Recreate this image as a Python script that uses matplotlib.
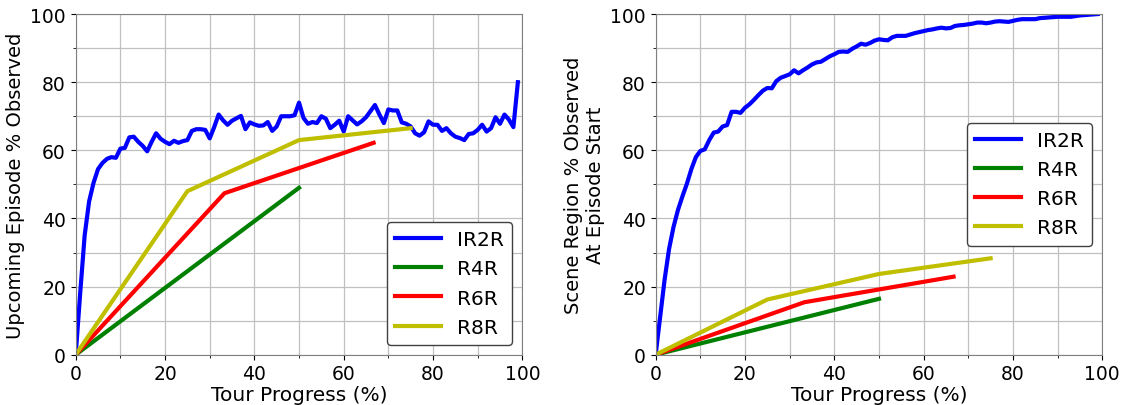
import matplotlib.pyplot as plt
from matplotlib.ticker import MultipleLocator

# progression du tour (%), 100 points
tour = list(range(100))

# gauche : part de l'épisode à venir déjà observée
ir2r_upcoming = [0, 18, 35, 45, 50.5, 54.5, 56.3, 57.5, 58, 57.8,
                 60.5, 60.7, 63.8, 64, 62.5, 61.3, 59.7, 62.5, 65, 63.4,
                 62.5, 61.8, 62.8, 62.2, 62.7, 63, 65.7, 66.2, 66.2, 66,
                 63.5, 66.8, 70.5, 68.8, 67.5, 68.7, 69.4, 70.1, 66.2, 68.2,
                 67.6, 67.2, 67.3, 68.3, 65.7, 67, 70, 70, 70, 70.3,
                 74, 69.5, 67.8, 68.3, 68, 70, 69.3, 66.5, 67.5, 68.7,
                 65.5, 70, 68.8, 67.6, 68.5, 69.7, 71.5, 73.3, 70.5, 68,
                 72, 71.7, 71.7, 68.2, 67.8, 67, 65, 64.3, 65.3, 68.5,
                 67.5, 67.5, 65.7, 66.5, 65, 64, 63.6, 63, 64.8, 65,
                 66, 67.5, 65.5, 66.5, 69.7, 67.8, 70.5, 69, 66.8, 80]

# droite : part de la scène observée au début de l'épisode
ir2r_scene = [0, 11, 22, 31, 37.5, 42.5, 46.5, 50.2, 54.5, 58,
              59.8, 60.3, 63, 65.2, 65.5, 67, 67.4, 71.3, 71.3, 71,
              72.5, 73.5, 74.8, 76.2, 77.5, 78.3, 78.2, 80.3, 81.3, 81.8,
              82.3, 83.5, 82.6, 83.5, 84.3, 85.2, 85.8, 86, 86.8, 87.6,
              88.2, 88.9, 89, 88.9, 89.8, 90.5, 91.3, 91, 91.5, 92.2,
              92.6, 92.4, 92.3, 93.2, 93.6, 93.6, 93.6, 94, 94.4, 94.7,
              95, 95.3, 95.5, 95.8, 96, 95.8, 95.9, 96.5, 96.7, 96.8,
              97, 97.2, 97.5, 97.5, 97.3, 97.5, 97.8, 97.9, 97.8, 97.7,
              98, 98.3, 98.5, 98.5, 98.5, 98.5, 98.8, 98.9, 99, 99.1,
              99.2, 99.2, 99.2, 99.2, 99.4, 99.6, 99.7, 99.8, 99.9, 100]

# méthodes de référence
r4r_x = [0, 50]
r6r_x = [0, 33.3, 66.7]
r8r_x = [0, 25, 50, 75]

r4r_upcoming = [0, 49]
r6r_upcoming = [0, 47.4, 62.2]
r8r_upcoming = [0, 48, 63, 66.5]

r4r_scene = [0, 16.4]
r6r_scene = [0, 15.4, 22.9]
r8r_scene = [0, 16.2, 23.7, 28.3]

plt.rcParams['font.size'] = 13.5

fig = plt.figure(figsize=(11.25, 4.06), dpi=100)
ax1 = fig.add_axes([0.0673, 0.1239, 0.397, 0.839])
ax2 = fig.add_axes([0.5828, 0.1239, 0.397, 0.839])

lw = 3
for ax, blue, r4, r6, r8 in [(ax1, ir2r_upcoming, r4r_upcoming, r6r_upcoming, r8r_upcoming),
                             (ax2, ir2r_scene, r4r_scene, r6r_scene, r8r_scene)]:
    ax.plot(tour, blue, color='blue', lw=lw, label='IR2R')
    ax.plot(r4r_x, r4, color='green', lw=lw, label='R4R')
    ax.plot(r6r_x, r6, color='red', lw=lw, label='R6R')
    ax.plot(r8r_x, r8, color='y', lw=lw, label='R8R')
    ax.set_xlim(0, 100)
    ax.set_ylim(0, 100)
    ax.xaxis.set_major_locator(MultipleLocator(20))
    ax.yaxis.set_major_locator(MultipleLocator(20))
    ax.xaxis.set_minor_locator(MultipleLocator(10))
    ax.yaxis.set_minor_locator(MultipleLocator(10))
    ax.grid(True, which='both', color='#c0c0c0', lw=0.9)
    ax.set_axisbelow(True)
    for s in ax.spines.values():
        s.set_color('#808080')
    ax.set_xlabel('Tour Progress (%)', fontsize=14.5, labelpad=1)

ax1.set_ylabel('Upcoming Episode % Observed', fontsize=14)
ax2.set_ylabel('Scene Region % Observed\nAt Episode Start', fontsize=14)

leg_kw = dict(fontsize=14.5, edgecolor='#404040', framealpha=1, handlelength=2.3)
ax1.legend(loc='lower right', **leg_kw)
ax2.legend(loc='center right', **leg_kw)

plt.savefig('out.png', dpi=100)
